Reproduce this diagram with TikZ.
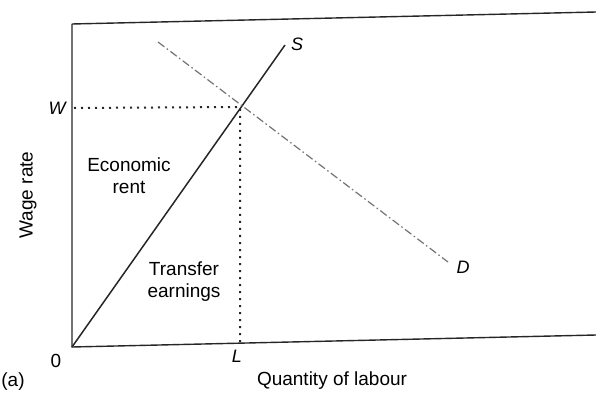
\documentclass[tikz,border=0pt]{standalone}
\usepackage{fontspec}
\setmainfont{Liberation Sans}
\begin{document}
\begin{tikzpicture}[x=1pt,y=-1pt,
  axisline/.style={line width=1.4pt,black!85},
  curve/.style={line width=1.5pt,black!85},
  guide/.style={line width=2pt,black!85,dash pattern=on 2pt off 5pt},
  demand/.style={line width=1.2pt,black!55,dash pattern=on 8pt off 3pt on 1.5pt off 3pt},
  lbl/.style={font=\fontsize{19}{22}\selectfont,inner sep=0pt},
  mlbl/.style={font=\fontsize{18}{21}\selectfont\itshape,inner sep=0pt}]
\useasboundingbox (0,0) rectangle (596,396);
\coordinate (O) at (72,347);
\coordinate (TL) at (72,24);
\coordinate (TR) at (596,12);
\coordinate (BR) at (596,335);
\coordinate (Stop) at (285,45);
\coordinate (E) at (240,107);
\coordinate (Wy) at (74,108);
\coordinate (Lx) at (240,345);
\coordinate (Dtop) at (158,42);
\coordinate (Dbot) at (448,262);
\draw[axisline] (TL) -- (TR);
\draw[axisline] (TL) -- (O) -- (BR);
\draw[curve] (O) -- (Stop);
\draw[demand] (Dtop) -- (Dbot);
\draw[guide] (Wy) -- (E) -- (Lx);
\node[mlbl] (S) at (297,44) {S};
\node[mlbl] (D) at (463,267) {D};
\node[mlbl] (W) at (57,108) {W};
\node[mlbl] (L) at (237,356) {L};
\node[lbl] (zero) at (56,361) {0};
\node[lbl] (a) at (13,382) {(a)};
\node[lbl] (qx) at (332,381) {Quantity of labour};
\node[lbl,rotate=90] (wy) at (28,195) {Wage rate};
\node[lbl,align=center] (econ) at (129,176) {Economic\\rent};
\node[lbl,align=center] (trans) at (184,282) {Transfer\\earnings};
\end{tikzpicture}
\end{document}
